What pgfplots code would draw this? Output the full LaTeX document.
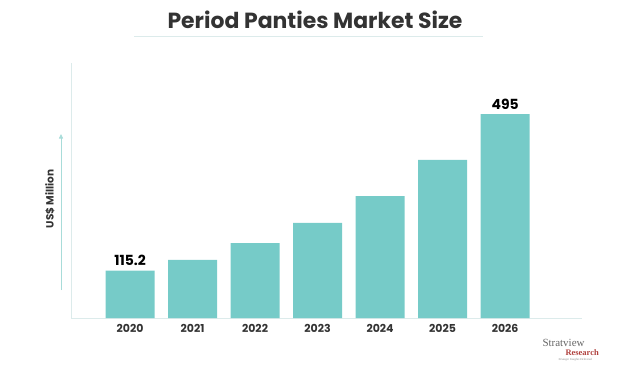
\documentclass[border=0pt]{standalone}
\usepackage{pgfplots}
\pgfplotsset{compat=1.18}
\usetikzlibrary{arrows.meta}
\usepackage{fontspec}
\setmainfont{Poppins}
\newfontfamily\logofont{Liberation Serif}
\definecolor{barc}{HTML}{76CBC8}
\definecolor{axc}{HTML}{DCEBEB}
\definecolor{txt}{HTML}{333333}
\definecolor{arr}{HTML}{A8DCD9}
\definecolor{logored}{HTML}{B0413E}
\begin{document}
\begin{tikzpicture}[x=1bp,y=1bp]
\path[use as bounding box] (0,0) rectangle (631,366);
\node[font=\fontsize{22}{26}\selectfont\bfseries, text=txt] at (315,346) {Period Panties Market Size};
\draw[axc, line width=0.8bp] (134,330) -- (483,330);
\node[rotate=90, font=\fontsize{10.5}{12}\selectfont\bfseries, text=txt] at (50,167) {US\$ Million};
\draw[arr, line width=0.8bp, -{Triangle[length=4.5bp,width=4bp]}] (61,76) -- (61,232);
\begin{axis}[
  at={(71bp,48bp)}, anchor=south west,
  scale only axis, width=511bp, height=255bp,
  xmin=-0.944, xmax=7.23, ymin=0, ymax=619,
  axis x line=bottom, axis y line=left,
  axis line style={-, axc, line width=0.9bp},
  xtick=data, xticklabels={2020,2021,2022,2023,2024,2025,2026},
  ytick=\empty, major tick length=0pt,
  xticklabel style={font=\fontsize{11}{13}\selectfont\bfseries, text=txt, yshift=-3bp},
  ybar, bar width=49bp,
  nodes near coords, point meta=explicit symbolic,
  every node near coord/.append style={font=\fontsize{14}{16}\selectfont\bfseries, text=black, yshift=1bp},
]
\addplot[fill=barc, draw=none] coordinates {
(0,115.2) [115.2]
(1,141) []
(2,182) []
(3,231) []
(4,296) []
(5,384) []
(6,495) [495]
};
\end{axis}
\node[font=\fontsize{11}{12}\selectfont, text=gray!80!black, anchor=west] at (539,23) {\logofont Stratview};
\node[font=\fontsize{8.5}{10}\selectfont, text=logored, anchor=west] at (562,13) {\logofont\bfseries Research};
\node[font=\fontsize{3}{4}\selectfont, text=gray, anchor=west] at (555,6) {\logofont\itshape Strategic Insights Delivered};
\end{tikzpicture}
\end{document}
